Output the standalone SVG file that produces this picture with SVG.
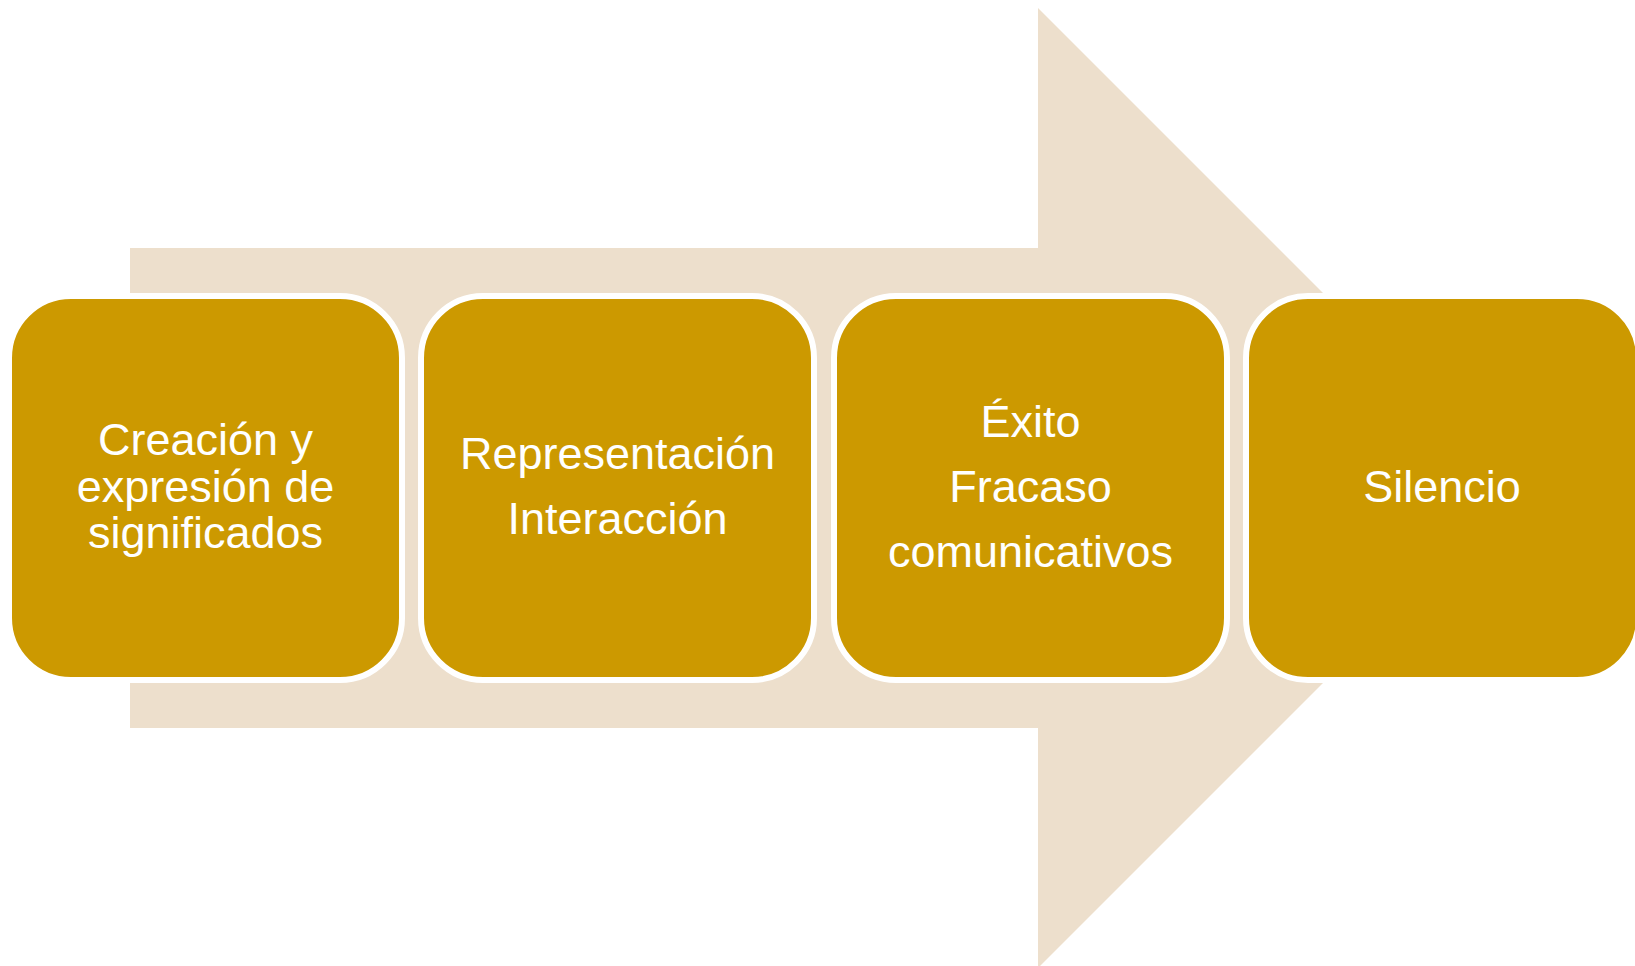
<svg xmlns="http://www.w3.org/2000/svg" width="1635" height="966" viewBox="0 0 1635 966">
<style>
.box{fill:#CC9900;stroke:#FFFFFF;stroke-width:6}
.t{font-family:"Liberation Sans",Arial,sans-serif;font-size:45px;fill:#FFFFFF;text-anchor:middle}
</style>
<rect width="1635" height="966" fill="#FFFFFF"/>
<g id="arrow">
<polygon points="130,248 1038,248 1038,8 1518,488 1038,968 1038,728 130,728" fill="#EDDFCC"/>
</g>
<g id="node1">
<rect class="box" x="9" y="296" width="393" height="384" rx="62" ry="62"/>
<text class="t" x="205.5" y="455">Creación y</text>
<text class="t" x="205.5" y="502">expresión de</text>
<text class="t" x="205.5" y="548">significados</text>
</g>
<g id="node2">
<rect class="box" x="421" y="296" width="393" height="384" rx="62" ry="62"/>
<text class="t" x="617.5" y="469">Representación</text>
<text class="t" x="617.5" y="534">Interacción</text>
</g>
<g id="node3">
<rect class="box" x="834" y="296" width="393" height="384" rx="62" ry="62"/>
<text class="t" x="1030.5" y="437">Éxito</text>
<text class="t" x="1030.5" y="502">Fracaso</text>
<text class="t" x="1030.5" y="567">comunicativos</text>
</g>
<g id="node4">
<rect class="box" x="1246" y="296" width="393" height="384" rx="62" ry="62"/>
<text class="t" x="1442" y="502">Silencio</text>
</g>
<g id="connectors"></g>
</svg>
